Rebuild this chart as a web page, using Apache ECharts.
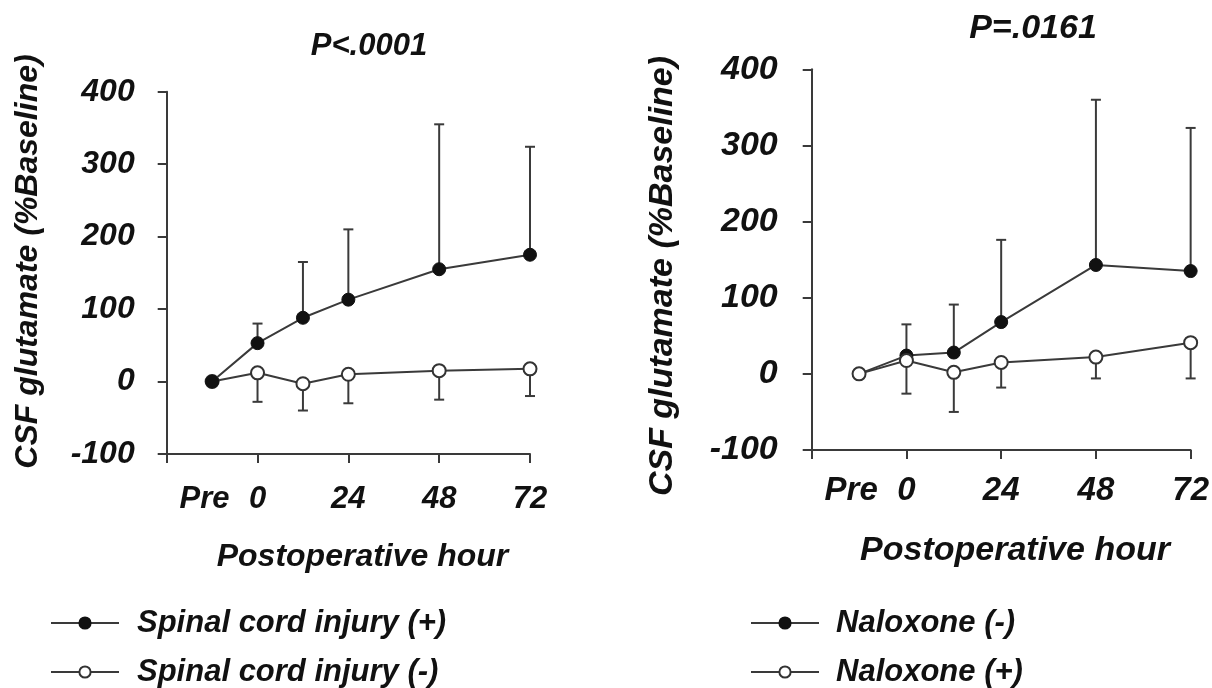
<!DOCTYPE html>
<html>
<head>
<meta charset="utf-8">
<script src="https://cdn.jsdelivr.net/npm/echarts@6/dist/echarts.min.js"></script>
<style>
html,body{margin:0;padding:0;background:#fff;}
#chart{width:1212px;height:688px;}
</style>
</head>
<body>
<div id="chart"></div>
<script>
// ---- Data ----
const hours = [-12, 0, 12, 24, 48, 72];            // -12 = "Pre"
const xTickValues = [-24, 0, 24, 48, 72];
const xLabelValues = [-14, 0, 24, 48, 72];
const xLabelNames = ['Pre', '0', '24', '48', '72'];

// Left panel (P<.0001)
const sciPosName = 'Spinal cord injury (+)';
const sciPosMean = [0, 53, 88, 113, 155, 175];
const sciPosSD   = [0, 27, 77, 97, 200, 149];     // upward bars
const sciNegName = 'Spinal cord injury (-)';
const sciNegMean = [0, 12, -3, 10, 15, 17.5];
const sciNegSD   = [0, 40, 37, 40, 40, 37.5];     // downward bars

// Right panel (P=.0161)
const naloxNegName = 'Naloxone (-)';
const naloxNegMean = [0, 24, 28, 68, 143, 135];
const naloxNegSD   = [0, 41, 63, 108, 217, 188];  // upward bars
const naloxPosName = 'Naloxone (+)';
const naloxPosMean = [0, 17.5, 2, 15, 22, 41];
const naloxPosSD   = [0, 43.5, 52, 33, 28, 47];   // downward bars

const leftTitle = 'P<.0001';
const rightTitle = 'P=.0161';
const yName = 'CSF glutamate (%Baseline)';
const xName = 'Postoperative hour';

// ---- Styling helpers ----
const FAM = '"Liberation Sans", Arial, sans-serif';
const INK = '#111';
const LINE = '#3a3a3a';
function font(size){ return 'italic bold ' + size + 'px ' + FAM; }

function pairs(means){ return hours.map((h,i)=>[h, means[i]]); }
function errData(means, sds, sign){
  const out = [];
  hours.forEach((h,i)=>{ if (sds[i] > 0) out.push([h, means[i], means[i] + sign*sds[i]]); });
  return out;
}
function errRender(params, api){
  const x = api.value(0), y = api.value(1), e = api.value(2);
  const p0 = api.coord([x, y]);
  const p1 = api.coord([x, e]);
  const hw = 5;
  return {type:'group', children:[
    {type:'line', shape:{x1:p0[0], y1:p0[1], x2:p1[0], y2:p1[1]}, style:{stroke:LINE, lineWidth:2}},
    {type:'line', shape:{x1:p1[0]-hw, y1:p1[1], x2:p1[0]+hw, y2:p1[1]}, style:{stroke:LINE, lineWidth:2}}
  ]};
}
function xAxisCfg(idx, size, margin){
  return {
    type:'value', gridIndex:idx, min:-24, max:72, interval:24,
    axisLine:{show:true, onZero:false, lineStyle:{color:LINE, width:2}},
    axisTick:{show:true, length:9, lineStyle:{color:LINE, width:2}, customValues:xTickValues},
    axisLabel:{show:true, margin:margin, color:INK, fontSize:size, fontWeight:'bold', fontStyle:'italic', fontFamily:FAM,
      customValues:xLabelValues,
      formatter:function(v){ const k = xLabelValues.indexOf(v); return k >= 0 ? xLabelNames[k] : ''; }},
    splitLine:{show:false}
  };
}
function yAxisCfg(idx, size, margin){
  return {
    type:'value', gridIndex:idx, min:-100, max:400, interval:100,
    axisLine:{show:true, onZero:false, lineStyle:{color:LINE, width:2}},
    axisTick:{show:true, length:9, lineStyle:{color:LINE, width:2}},
    axisLabel:{margin:margin, color:INK, fontSize:size, fontWeight:'bold', fontStyle:'italic', fontFamily:FAM},
    splitLine:{show:false}
  };
}
function filledSeries(name, means, axisIdx, z){
  return {name:name, type:'line', xAxisIndex:axisIdx, yAxisIndex:axisIdx, data:pairs(means),
    symbol:'circle', symbolSize:13, z:z,
    lineStyle:{color:LINE, width:2},
    itemStyle:{color:INK, borderColor:INK, borderWidth:1}};
}
function openSeries(name, means, axisIdx, z){
  return {name:name, type:'line', xAxisIndex:axisIdx, yAxisIndex:axisIdx, data:pairs(means),
    symbol:'circle', symbolSize:13, z:z,
    lineStyle:{color:LINE, width:2},
    itemStyle:{color:'#fff', borderColor:'#333', borderWidth:2}};
}
function errSeries(means, sds, sign, axisIdx){
  return {type:'custom', xAxisIndex:axisIdx, yAxisIndex:axisIdx, renderItem:errRender,
    data:errData(means, sds, sign), encode:{x:0, y:[1,2]}, z:1, silent:true};
}
function legendCfg(name, left, centerY, pad){
  return {data:[name], orient:'horizontal', left:left, top:centerY - 17, padding:0,
    itemWidth:68, itemHeight:14, selectedMode:false,
    textStyle:{color:INK, fontSize:31, fontWeight:'bold', fontStyle:'italic', fontFamily:FAM, lineHeight:34, padding:[0,0,0,pad]}};
}
function txt(x, y, text, size, rot){
  return {type:'text', x:x, y:y, rotation:rot||0,
    style:{text:text, font:font(size), fill:INK, align:'center', verticalAlign:'middle'}};
}

const chart = echarts.init(document.getElementById('chart'));
chart.setOption({
  animation:false,
  backgroundColor:'#fff',
  grid:[
    {left:166.7, top:91.7, width:363.3, height:362.3},
    {left:811.7, top:69.3, width:381.6, height:380.7}
  ],
  xAxis:[ xAxisCfg(0, 31, 30), xAxisCfg(1, 33, 24) ],
  yAxis:[ yAxisCfg(0, 32, 32), yAxisCfg(1, 34, 34) ],
  legend:[
    legendCfg(sciPosName, 50, 623, 13),
    legendCfg(sciNegName, 50, 672, 13),
    legendCfg(naloxNegName, 750, 623, 12),
    legendCfg(naloxPosName, 750, 672, 12)
  ],
  series:[
    errSeries(sciPosMean, sciPosSD, 1, 0),
    errSeries(sciNegMean, sciNegSD, -1, 0),
    openSeries(sciNegName, sciNegMean, 0, 2),
    filledSeries(sciPosName, sciPosMean, 0, 3),
    errSeries(naloxNegMean, naloxNegSD, 1, 1),
    errSeries(naloxPosMean, naloxPosSD, -1, 1),
    filledSeries(naloxNegName, naloxNegMean, 1, 2),
    openSeries(naloxPosName, naloxPosMean, 1, 3)
  ],
  graphic:[
    txt(369, 46.5, leftTitle, 31),
    txt(1033, 28.5, rightTitle, 34),
    txt(28, 261.5, yName, 32, Math.PI/2),
    txt(663, 276, yName, 34, Math.PI/2),
    txt(362.5, 557, xName, 32),
    txt(1015, 551, xName, 34)
  ]
});
</script>
</body>
</html>
